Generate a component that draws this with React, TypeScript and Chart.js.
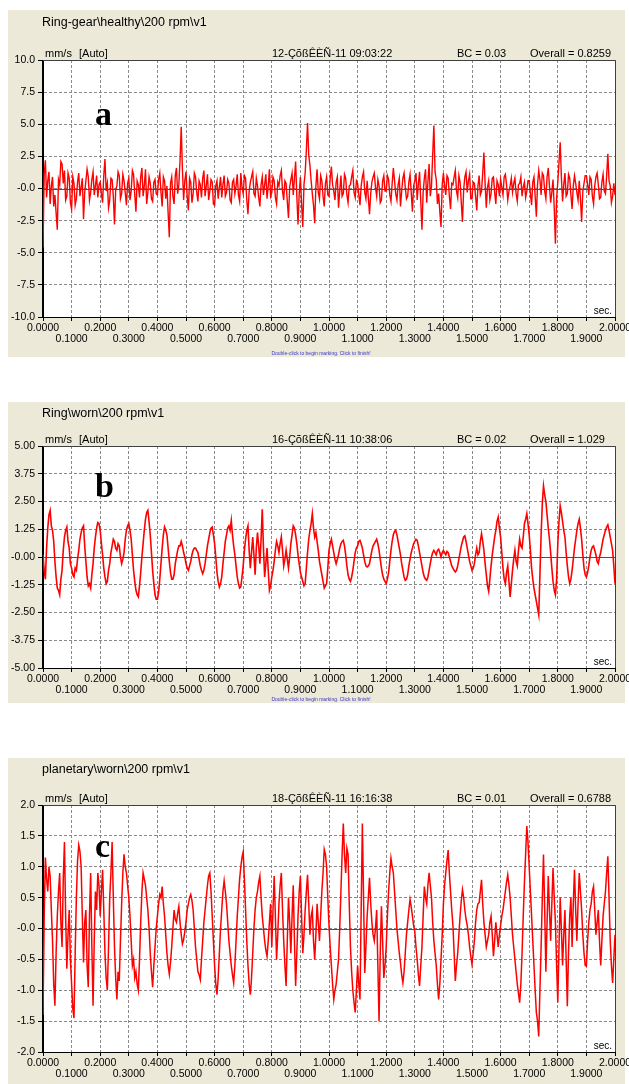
import React, { useEffect, useRef } from "react";
import { Chart, registerables } from "chart.js";

Chart.register(...registerables);

// ---------- data ----------
const xTickLabels = [
  "0.0000", "0.1000", "0.2000", "0.3000", "0.4000", "0.5000", "0.6000",
  "0.7000", "0.8000", "0.9000", "1.0000", "1.1000", "1.2000", "1.3000",
  "1.4000", "1.5000", "1.6000", "1.7000", "1.8000", "1.9000", "2.0000",
];

const yTicksA = [10, 7.5, 5, 2.5, 0, -2.5, -5, -7.5, -10];
const yLabelsA = ["10.0", "7.5", "5.0", "2.5", "-0.0", "-2.5", "-5.0", "-7.5", "-10.0"];
const yTicksB = [5, 3.75, 2.5, 1.25, 0, -1.25, -2.5, -3.75, -5];
const yLabelsB = ["5.00", "3.75", "2.50", "1.25", "-0.00", "-1.25", "-2.50", "-3.75", "-5.00"];
const yTicksC = [2, 1.5, 1, 0.5, 0, -0.5, -1, -1.5, -2];
const yLabelsC = ["2.0", "1.5", "1.0", "0.5", "-0.0", "-0.5", "-1.0", "-1.5", "-2.0"];

// Ring-gear healthy (mm/s), 2 s record
const valuesA = [
  -4.6, 1.1, 2.2, -0.7, 0.6, 1.3, -1.2, 0.2, 0.9, -1.4, -0.5, -1.9, -3.2, 0.7, 0.3, 2.1, 1.9, 0.4, 1.4, -0.9, -0.6, 1.2, 0.8, -1.1,
  -1.6, 0.9, 0.4, -1.3, -0.8, 0.5, 1.2, -0.6, 0.1, 0.8, -2.4, -0.3, 0.6, 1.5, 0.9, -0.9, -0.3, 0.7, 1.3, -0.5, 0.2, 1.0, -0.7, 0.3,
  0.5, -0.4, -1.1, 1.0, 2.3, -0.2, 0.4, -1.5, -0.9, 0.8, 0.7, -0.6, -2.8, -0.1, 0.2, 1.3, 1.0, -0.8, -0.4, 1.1, 0.6, -0.3, -1.3, 0.4,
  0.8, -0.9, -0.2, 1.4, 1.1, -0.5, -1.8, 0.6, 0.3, -0.7, 0.9, 1.6, -0.6, 0.2, 1.5, -1.2, -0.3, 0.9, 0.4, -0.8, -1.0, 0.5, 0.7, -0.4,
  -0.5, 0.7, 1.2, -0.3, -1.4, 0.9, 0.6, -0.8, 0.2, -1.9, -3.8, 0.4, 0.9, -0.6, -1.2, 1.0, 1.6, -0.4, 0.3, 2.2, 4.8, 1.5, -0.9, 0.6,
  1.3, -0.6, -1.7, 0.8, 0.5, -1.1, -0.4, 1.2, 0.9, -0.3, -1.0, 0.6, 0.3, -0.7, 0.8, 1.4, -0.6, 0.2, 1.1, -0.9, -0.2, 0.7, 0.5, -1.2,
  -1.3, 0.2, 0.6, -0.8, 0.1, 0.9, -0.7, 0.3, 1.0, -0.6, -0.3, 0.7, 0.4, -0.9, -1.1, 0.5, 0.7, -0.4, 0.2, 1.1, -0.5, -1.0, 1.2, 0.1,
  -0.4, 1.0, 0.8, -0.9, -2.0, -0.2, 0.5, 0.9, 1.3, -0.4, -0.6, 0.8, 0.2, -0.7, -1.4, 0.3, 0.9, -0.5, 0.3, 1.1, -0.8, 0.2, 1.5, -0.6,
  -0.3, 0.9, 0.6, -0.7, -1.2, 0.5, 0.2, 1.0, 1.4, -0.2, -0.9, 0.6, 0.4, -1.0, -2.3, 0.1, 0.7, 1.2, -0.5, 0.8, 2.1, -0.6, -2.8, -0.4,
  0.9, -1.2, -3.0, 0.3, 1.2, 3.0, 5.1, 2.6, 1.8, 0.6, -0.4, -1.3, -2.7, 0.2, 1.5, -0.3, -0.8, 1.0, 0.6, -0.6, -1.4, 0.4, 0.9, -0.5,
  -0.6, 0.8, 1.7, 0.3, -0.2, -0.9, 0.5, 0.9, -1.5, -0.2, 1.0, -0.6, -0.4, 1.1, 0.8, -0.5, -1.1, 0.2, 0.3, 0.9, 1.4, -0.3, -0.7, 0.6,
  0.4, -0.5, -1.3, 0.2, 0.9, 1.3, -0.3, -0.8, 0.6, -0.7, -2.0, -0.4, 0.5, 0.9, 1.2, 0.1, -0.6, 0.7, 0.2, -1.1, -0.9, 0.6, 1.0, -0.2,
  -0.2, 1.0, 0.7, -0.5, -1.0, 0.4, 1.6, 0.6, -0.4, -0.9, 0.3, 0.8, -1.4, -0.2, 0.8, 1.2, 0.1, -0.8, -0.6, 0.5, 1.1, -0.3, -1.8, 0.2,
  0.6, 1.2, -0.9, 0.4, 1.3, -1.0, -3.2, -0.3, 0.8, 1.5, -1.1, 0.5, 1.9, -0.6, 0.2, 2.6, 4.9, 1.3, 0.7, -1.2, -0.4, -1.8, -3.0, 0.3,
  1.2, 0.2, -0.5, 1.0, 0.8, -0.6, -1.6, 0.4, 0.3, 0.9, 1.4, -0.2, -0.7, 1.0, 0.5, -1.1, -2.6, -0.1, 0.9, 1.3, -0.3, 0.6, 1.1, -0.8,
  -0.8, 0.5, 0.4, -0.6, -1.7, 0.2, 1.0, -0.5, -0.2, 1.2, 2.8, 0.4, -1.5, 0.1, 0.6, -0.9, -0.4, 0.8, 0.9, -0.3, -1.2, 0.6, 0.3, -0.6,
  0.7, 0.1, -0.5, 0.9, 1.1, 0.3, -0.9, -0.2, 0.2, 0.8, -0.3, 0.4, 0.8, -0.4, -1.0, 0.3, 0.4, 0.9, -0.6, 0.1, 0.5, -0.7, -0.2, 0.6,
  0.6, -0.4, -1.3, 0.5, 0.9, -0.6, -2.2, 0.3, 1.4, 0.7, -0.5, 1.2, 1.0, -0.2, -0.8, 0.9, 1.6, 0.2, -1.1, -0.3, 0.7, -1.5, -4.3, -0.8,
  0.5, 2.0, 3.6, 0.9, -1.0, 0.3, 1.2, -0.6, -0.4, 1.1, 0.8, -0.5, -1.6, 0.2, 1.0, 0.4, -0.3, -0.9, 0.6, -0.8, -2.6, -0.2, 0.4, 1.0,
  1.0, 0.3, -0.5, 0.9, 0.7, -0.6, -1.2, 0.2, 0.9, 1.2, 0.3, -0.8, -0.7, 0.5, 1.1, -0.2, -0.4, 1.0, 2.7, 0.6, 0.2, -1.1, -0.6, 0.4,
  -0.5,
];

// Ring worn (mm/s)
const valuesB = [
  0.1, -0.6, -1.0, 0.4, 1.3, 1.9, 2.1, 1.4, 1.2, 0.7, -0.2, -0.9, -1.4, -1.5, -1.7, -1.0, -0.6, 0.3, 0.9, 1.2, 1.35, 0.7, 0.4, -0.3,
  -0.5, -0.8, -0.9, -0.5, -0.6, -0.1, 0.3, 0.8, 1.1, 1.3, 1.4, 0.5, -0.2, -0.9, -1.3, -1.2, -1.4, -0.8, -0.3, 0.4, 0.9, 1.3, 1.55, 1.5,
  1.2, 0.6, 0.1, -0.5, -0.9, -1.2, -1.1, -0.6, -0.3, 0.2, 0.5, 0.8, 0.7, 0.4, 0.3, 0.6, 0.5, 0.0, -0.3, -0.1, 0.2, 0.8, 1.2, 1.4,
  1.5, 1.2, 0.8, 0.1, -0.6, -1.1, -1.5, -1.7, -1.8, -1.3, -0.7, 0.0, 0.6, 1.2, 1.7, 2.0, 2.1, 1.6, 1.0, 0.2, -0.6, -1.2, -1.7, -1.9,
  -1.9, -1.6, -1.0, -0.3, 0.4, 1.0, 1.35, 1.2, 1.0, 0.4, -0.2, -0.7, -1.0, -1.0, -0.8, -0.3, 0.0, 0.3, 0.5, 0.5, 0.7, 0.5, 0.2, 0.0,
  -0.3, -0.5, -0.6, -0.4, -0.2, 0.1, 0.3, 0.4, 0.4, 0.3, 0.2, -0.1, -0.4, -0.6, -0.75, -0.6, -0.3, 0.1, 0.5, 0.8, 1.1, 1.3, 1.35, 1.0,
  0.6, 0.0, -0.7, -1.1, -1.35, -1.2, -0.9, -0.3, 0.2, 0.7, 1.0, 1.3, 1.4, 1.2, 1.65, 1.0, 0.5, 0.1, -0.4, -0.9, -1.2, -1.4, -1.35, -0.9,
  -0.4, 0.3, 0.8, 1.2, 1.4, 0.3, -0.5, 0.2, 0.9, 0.1, -0.8, 0.4, 1.1, 0.5, -0.3, 0.8, 2.15, 0.4, -0.9, -0.3, 0.4, -0.6, -1.5, -1.3,
  -0.9, -0.6, -0.2, 0.3, 0.7, 0.5, 0.2, 0.6, 0.9, 0.3, -0.4, -0.1, 0.3, -0.1, -0.5, 0.0, 0.6, 1.0, 1.4, 1.3, 1.0, 0.6, 0.1, -0.3,
  -0.7, -0.9, -1.1, -1.3, -1.2, -0.5, 0.2, 0.8, 1.2, 1.5, 1.95, 1.3, 0.9, 1.1, 0.7, 0.3, -0.2, -0.5, -0.8, -1.1, -1.4, -1.3, -1.2, -0.5,
  0.3, 0.6, 0.8, 0.5, 0.2, -0.1, -0.3, -0.1, 0.1, 0.4, 0.6, 0.7, 0.75, 0.5, 0.1, -0.4, -0.8, -1.0, -1.1, -0.9, -0.6, -0.2, 0.2, 0.4,
  0.5, 0.7, 0.75, 0.6, 0.4, 0.1, -0.2, -0.4, -0.45, -0.4, -0.3, 0.0, 0.3, 0.5, 0.6, 0.7, 0.8, 0.6, 0.3, -0.1, -0.5, -0.8, -1.0, -1.1,
  -1.2, -1.0, -0.7, -0.2, 0.3, 0.7, 1.0, 1.15, 1.2, 1.0, 0.7, 0.4, 0.1, -0.3, -0.6, -0.9, -1.05, -1.0, -0.8, -0.4, -0.1, 0.2, 0.4, 0.6,
  0.7, 0.8, 0.75, 0.5, 0.2, -0.1, -0.4, -0.7, -0.9, -1.0, -1.05, -0.9, -0.6, -0.3, 0.0, 0.2, 0.3, 0.2, 0.1, 0.3, 0.35, 0.2, 0.0, 0.2,
  0.3, 0.2, 0.1, 0.25, 0.2, 0.0, -0.2, -0.4, -0.5, -0.6, -0.67, -0.6, -0.4, -0.1, 0.2, 0.5, 0.7, 0.9, 0.95, 0.7, 0.4, 0.1, -0.2, -0.4,
  -0.6, -0.5, -0.3, 0.1, 0.4, 0.1, 0.2, 0.7, 1.05, 0.7, 0.3, -0.3, -0.8, -1.3, -1.55, -1.0, -0.4, 0.1, 0.5, 0.9, 1.2, 1.6, 1.8, 1.3,
  0.9, 0.2, -0.5, -1.0, -1.2, -0.7, -0.4, -1.1, -1.8, -1.2, -0.6, -0.1, 0.3, -0.2, -0.4, 0.3, 0.8, 0.5, 0.4, 0.9, 1.5, 1.7, 1.95, 1.5,
  1.0, 0.3, -0.5, -1.0, -1.4, -1.7, -2.0, -2.3, -2.6, -0.8, 1.0, 2.4, 3.2, 2.8, 2.5, 1.9, 1.3, 0.8, 0.2, -0.5, -1.1, -1.5, -1.7, -1.0,
  0.6, 1.6, 2.3, 2.0, 1.6, 1.2, 0.9, 0.2, -0.4, -0.9, -1.2, -1.0, -0.6, -0.1, 0.4, 0.8, 1.2, 1.5, 1.7, 1.3, 0.8, 0.1, -0.5, -0.8,
  -0.9, -0.7, -0.4, 0.0, 0.3, 0.45, 0.5, 0.3, 0.1, -0.2, -0.3, 0.0, 0.2, 0.5, 0.8, 1.0, 1.2, 1.35, 1.45, 1.2, 0.9, 0.6, 0.3, -0.4,
  -1.2,
];

// Planetary worn (mm/s)
const valuesC = [
  -1.4, 0.2, 1.15, 0.8, 0.6, 1.0, 0.85, 0.3, -0.2, -0.9, -1.25, -0.4, 0.2, 0.6, 0.9, 0.1, -0.3, 0.8, 1.4, 0.2, -0.65, -0.1, 0.3, -0.5,
  -0.9, -1.3, -1.45, -0.4, 0.5, 1.1, 1.35, 1.25, 1.0, 0.2, -0.55, 0.1, 0.3, -0.6, -0.95, 0.2, 0.9, -0.3, -1.25, -0.2, 0.6, 0.3, 0.9, 0.7,
  0.2, 0.6, 0.95, 0.3, -0.4, -0.8, -1.0, -0.3, 0.5, 0.9, 1.4, 0.5, -0.3, -0.8, -1.15, -0.7, -0.85, -0.2, 0.4, 0.9, 1.2, 1.0, 0.9, 0.7,
  0.5, 0.2, -0.2, -0.6, -0.5, -0.8, -0.7, -0.9, -1.0, -0.5, 0.1, 0.6, 0.9, 0.8, 0.7, 0.5, 0.3, 0.0, -0.4, -0.7, -0.95, -0.6, -0.3, 0.0,
  0.2, 0.4, 0.55, 0.5, 0.68, 0.4, 0.2, -0.1, -0.4, -0.6, -0.74, -0.55, -0.3, 0.0, 0.3, 0.15, 0.1, 0.25, 0.36, 0.1, -0.1, -0.25, -0.18, -0.05,
  0.1, 0.3, 0.4, 0.5, 0.55, 0.45, 0.3, 0.0, -0.3, -0.5, -0.7, -0.75, -0.83, -0.5, -0.2, 0.1, 0.3, 0.5, 0.7, 0.85, 0.9, 0.6, 0.2, -0.2,
  -0.6, -0.9, -1.07, -0.8, -0.4, 0.0, 0.3, 0.6, 0.77, 0.6, 0.4, 0.1, -0.2, -0.4, -0.6, -0.75, -0.88, -0.6, -0.2, 0.2, 0.5, 0.8, 1.0, 1.15,
  1.24, 0.8, 0.3, -0.2, -0.6, -0.9, -1.07, -0.8, -0.4, 0.0, 0.3, 0.5, 0.6, 0.75, 0.85, 0.5, 0.2, 0.0, -0.2, -0.35, -0.45, -0.2, 0.1, 0.4,
  -0.3, 0.3, 0.85, 0.2, -0.5, -0.1, 0.4, 0.7, 0.9, 0.3, -0.2, -0.6, -0.93, -0.2, 0.5, 0.1, -0.4, 0.2, 0.7, -0.2, -0.93, -0.4, 0.2, 0.6,
  0.85, 0.2, -0.4, -0.1, 0.3, 0.6, 0.87, 0.4, -0.1, 0.2, 0.3, -0.2, -0.5, -0.1, 0.4, 0.1, -0.2, 0.2, 0.6, 0.9, 1.28, 1.2, 1.0, 0.5,
  0.05, -0.3, -0.6, -0.9, -1.15, -1.0, -0.9, -0.7, -0.5, 0.0, 0.6, 1.2, 1.7, 1.2, 0.9, 1.3, 1.2, 0.4, -0.3, -0.7, -1.0, -1.2, -1.36, -1.0,
  -0.6, -0.9, -1.15, 0.3, 1.7, 0.5, -0.72, -0.3, 0.2, 0.5, 0.82, 0.4, 0.1, -0.1, -0.2, 0.0, 0.3, -0.6, -1.5, -0.4, 0.36, -0.2, -0.8, -0.6,
  -0.3, 0.2, 0.6, 0.9, 1.14, 1.0, 0.9, 0.6, 0.3, 0.0, -0.2, -0.4, -0.56, -0.75, -0.88, -0.7, -0.4, -0.1, 0.1, 0.3, 0.47, 0.35, 0.2, 0.05,
  -0.05, -0.3, -0.5, -0.75, -0.93, -0.6, -0.3, 0.2, 0.68, 0.5, 0.4, 0.7, 0.9, 0.7, 0.5, 0.1, -0.2, -0.4, -0.6, -0.9, -1.15, -0.9, -0.5, -0.1,
  0.4, 0.7, 0.9, 1.1, 1.27, 0.9, 0.6, 0.3, 0.05, -0.4, -0.85, -0.6, -0.4, -0.1, 0.2, 0.45, 0.63, 0.5, 0.3, 0.15, 0.05, -0.1, -0.3, -0.45,
  -0.58, -0.4, -0.2, 0.1, 0.3, 0.4, 0.42, 0.6, 0.79, 0.4, 0.1, -0.1, -0.3, -0.2, -0.1, 0.1, 0.2, -0.1, -0.45, -0.2, 0.1, -0.1, -0.3, -0.1,
  0.05, 0.2, 0.3, 0.45, 0.6, 0.75, 0.87, 0.7, 0.5, 0.2, -0.1, -0.3, -0.5, -0.7, -0.9, -1.05, -1.2, -0.9, -0.4, 0.2, 0.74, 1.2, 1.66, 1.4,
  1.0, 0.6, 0.2, -0.2, -0.6, -1.0, -1.36, -1.5, -1.75, -1.0, -0.3, 0.5, 1.2, 0.3, -0.7, 0.1, 0.85, 0.3, -0.2, 0.4, 0.98, 0.5, 0.1, -0.6,
  -1.2, -0.3, 0.5, 0.0, -0.6, -0.1, 0.3, -0.5, -1.26, -0.4, 0.2, 0.5, -0.3, 0.4, 0.95, 0.3, -0.2, 0.4, 0.9, 0.6, 0.3, -0.1, -0.4, -0.6,
  -0.61, -0.2, 0.1, 0.3, 0.4, 0.6, 0.68, 0.3, -0.1, 0.1, 0.3, -0.2, -0.6, -0.2, 0.2, 0.4, 0.6, 0.9, 1.17, 0.5, -0.2, -0.6, -0.88, -0.5,
  -0.1,
];

const titleA = "Ring-gear\\healthy\\200 rpm\\v1";
const titleB = "Ring\\worn\\200 rpm\\v1";
const titleC = "planetary\\worn\\200 rpm\\v1";
const dateA = "12-ÇõßÊÈÑ-11 09:03:22";
const dateB = "16-ÇõßÊÈÑ-11 10:38:06";
const dateC = "18-ÇõßÊÈÑ-11 16:16:38";
const bcA = "BC = 0.03";
const bcB = "BC = 0.02";
const bcC = "BC = 0.01";
const overallA = "Overall = 0.8259";
const overallB = "Overall = 1.029";
const overallC = "Overall = 0.6788";

// ---------- rendering ----------
const FAM = '"Liberation Sans", Arial, sans-serif';
const CANVAS_W = 629;

type PanelProps = {
  top: number;
  height: number;
  padTop: number;
  xAxisH: number;
  titleY: number;
  letterDy: number;
  letter: string;
  title: string;
  date: string;
  bc: string;
  overall: string;
  values: number[];
  yTicks: number[];
  yLabels: string[];
  yMin: number;
  yMax: number;
  hint: boolean;
  lineW: number;
};

function Panel(p: PanelProps) {
  const ref = useRef<HTMLCanvasElement | null>(null);

  useEffect(() => {
    const canvas = ref.current;
    if (!canvas) return;
    const n = p.values.length;
    const data = p.values.map((v, i) => ({ x: (i * 2) / (n - 1), y: v }));
    const xVals = xTickLabels.map((s) => parseFloat(s));
    const yAsc = [...p.yTicks].sort((a, b) => a - b);

    const decor = {
      id: "decor",
      beforeDraw(chart: any) {
        const { ctx, chartArea: a, height } = chart;
        ctx.save();
        ctx.fillStyle = "#ECE9D8";
        ctx.fillRect(8, 0, 617, height);
        ctx.fillStyle = "#ffffff";
        ctx.fillRect(a.left, a.top, a.right - a.left, a.bottom - a.top);
        ctx.restore();
      },
      beforeDatasetsDraw(chart: any) {
        const { ctx, chartArea: a } = chart;
        const y0 = Math.round(chart.scales.y.getPixelForValue(0)) + 0.5;
        ctx.save();
        ctx.strokeStyle = "#505050";
        ctx.lineWidth = 1;
        ctx.beginPath();
        ctx.moveTo(a.left, y0);
        ctx.lineTo(a.right, y0);
        ctx.stroke();
        ctx.restore();
      },
      afterDraw(chart: any) {
        const { ctx, chartArea: a, height } = chart;
        ctx.save();
        ctx.strokeStyle = "#404040";
        ctx.lineWidth = 1;
        ctx.beginPath();
        ctx.moveTo(a.left, a.top + 0.5);
        ctx.lineTo(a.right + 0.5, a.top + 0.5);
        ctx.lineTo(a.right + 0.5, a.bottom);
        ctx.stroke();
        ctx.strokeStyle = "#000";
        ctx.beginPath();
        ctx.moveTo(a.left - 0.5, a.top);
        ctx.lineTo(a.left - 0.5, a.bottom + 0.5);
        ctx.lineTo(a.right + 1, a.bottom + 0.5);
        ctx.stroke();

        ctx.fillStyle = "#000";
        ctx.textBaseline = "middle";
        ctx.textAlign = "left";
        ctx.font = `12.5px ${FAM}`;
        ctx.fillText(p.title, 42, p.titleY);

        ctx.font = `11px ${FAM}`;
        const hy = a.top - 6;
        ctx.fillText("mm/s", 45, hy);
        ctx.fillText("[Auto]", 79, hy);
        ctx.fillText(p.date, 272, hy);
        ctx.fillText(p.bc, 457, hy);
        ctx.fillText(p.overall, 530, hy);

        ctx.textAlign = "right";
        ctx.font = `10px ${FAM}`;
        ctx.fillText("sec.", a.right - 3, a.bottom - 6);

        ctx.textAlign = "left";
        ctx.textBaseline = "alphabetic";
        ctx.font = `bold 34px "Liberation Serif", "Times New Roman", serif`;
        ctx.fillText(p.letter, 95, a.top + p.letterDy);

        if (p.hint) {
          ctx.textAlign = "center";
          ctx.textBaseline = "middle";
          ctx.fillStyle = "#3a3ac8";
          ctx.font = `5px ${FAM}`;
          ctx.fillText("Double-click to begin marking. Click to finish!", 321, height - 3.5);
        }
        ctx.restore();
      },
    };

    const chart = new Chart(canvas, {
      type: "line",
      data: {
        datasets: [
          {
            data,
            borderColor: "#ff0000",
            borderWidth: p.lineW,
            pointRadius: 0,
            tension: 0,
            fill: false,
          },
        ],
      },
      options: {
        responsive: false,
        animation: false,
        events: [],
        parsing: false as any,
        layout: { padding: { left: 0, right: 14, top: p.padTop, bottom: 0 } },
        plugins: { legend: { display: false }, tooltip: { enabled: false } },
        scales: {
          x: {
            type: "linear",
            min: 0,
            max: 2,
            afterBuildTicks: (s: any) => {
              s.ticks = xVals.map((v) => ({ value: v }));
            },
            afterFit: (s: any) => {
              s.height = p.xAxisH;
              s.paddingLeft = 0;
              s.paddingRight = 0;
            },
            ticks: {
              autoSkip: false,
              maxRotation: 0,
              minRotation: 0,
              padding: 2,
              color: "#000",
              font: { family: FAM, size: 10.5, lineHeight: 1.0 },
              callback: (_v: any, i: number) =>
                i % 2 === 0 ? [xTickLabels[i], ""] : ["", xTickLabels[i]],
            },
            grid: {
              color: "#8a8a8a",
              lineWidth: 1,
              drawTicks: true,
              tickLength: 4,
              tickColor: "#000",
              tickWidth: 1,
            },
            border: { display: true, color: "#000", width: 1, dash: [3, 2] },
          },
          y: {
            type: "linear",
            min: p.yMin,
            max: p.yMax,
            afterBuildTicks: (s: any) => {
              s.ticks = yAsc.map((v) => ({ value: v }));
            },
            afterFit: (s: any) => {
              s.width = 43;
              s.paddingTop = 0;
              s.paddingBottom = 0;
            },
            ticks: {
              padding: 3,
              color: "#000",
              font: { family: FAM, size: 10.5 },
              callback: (v: any) => {
                const k = p.yTicks.findIndex((t) => Math.abs(t - Number(v)) < 1e-9);
                return k >= 0 ? p.yLabels[k] : "";
              },
            },
            grid: {
              color: "#8a8a8a",
              lineWidth: 1,
              drawTicks: true,
              tickLength: 5,
              tickColor: "#000",
              tickWidth: 1,
            },
            border: { display: true, color: "#000", width: 1, dash: [3, 2] },
          },
        },
      } as any,
      plugins: [decor],
    });
    return () => chart.destroy();
  }, []);

  return (
    <canvas
      ref={ref}
      width={CANVAS_W}
      height={p.height}
      style={{ position: "absolute", left: 0, top: p.top, width: CANVAS_W, height: p.height, display: "block" }}
    />
  );
}

export default function App() {
  return (
    <div
      style={{
        position: "fixed",
        left: 0,
        top: 0,
        width: 629,
        height: 1084,
        overflow: "hidden",
        background: "#ffffff",
      }}
    >
      <Panel
        top={10}
        height={347}
        padTop={50}
        xAxisH={40}
        titleY={13}
        letterDy={65}
        letter="a"
        title={titleA}
        date={dateA}
        bc={bcA}
        overall={overallA}
        values={valuesA}
        yTicks={yTicksA}
        yLabels={yLabelsA}
        yMin={-10}
        yMax={10}
        hint={true}
        lineW={1.4}
      />
      <Panel
        top={402}
        height={301}
        padTop={44}
        xAxisH={35}
        titleY={11.5}
        letterDy={51}
        letter="b"
        title={titleB}
        date={dateB}
        bc={bcB}
        overall={overallB}
        values={valuesB}
        yTicks={yTicksB}
        yLabels={yLabelsB}
        yMin={-5}
        yMax={5}
        hint={true}
        lineW={1.6}
      />
      <Panel
        top={758}
        height={326}
        padTop={47}
        xAxisH={32}
        titleY={12}
        letterDy={52}
        letter="c"
        title={titleC}
        date={dateC}
        bc={bcC}
        overall={overallC}
        values={valuesC}
        yTicks={yTicksC}
        yLabels={yLabelsC}
        yMin={-2}
        yMax={2}
        hint={false}
        lineW={1.5}
      />
    </div>
  );
}
